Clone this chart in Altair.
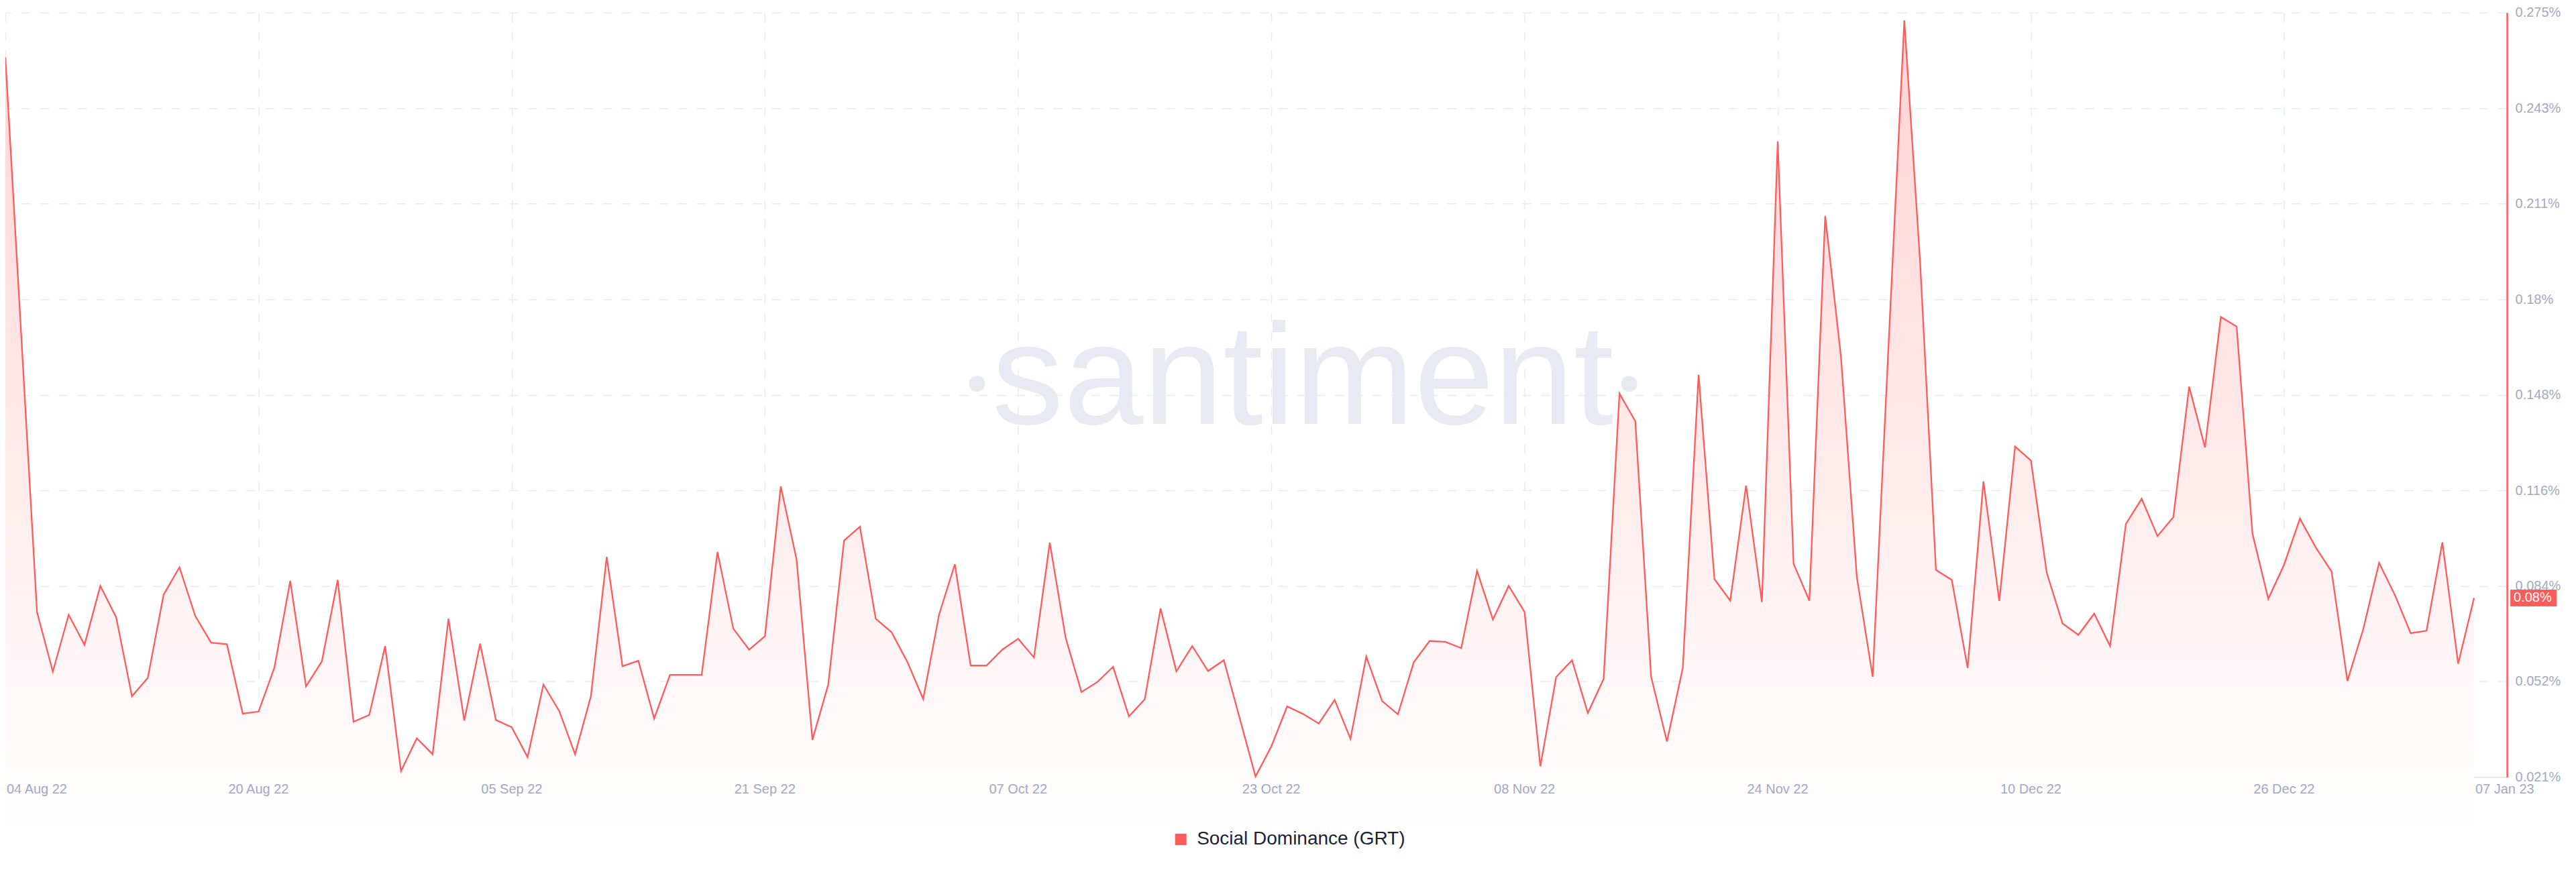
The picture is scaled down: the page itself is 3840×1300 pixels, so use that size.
import altair as alt
import pandas as pd

# ---------------- data ----------------
start_date = "2022-08-04"
series_name = "Social Dominance (GRT)"

values = [
    0.2601, 0.1679, 0.0755, 0.0557, 0.0746, 0.0646, 0.0842, 0.0738, 0.0475, 0.0536,
    0.0813, 0.0904, 0.0742, 0.0653, 0.0648, 0.0417, 0.0424, 0.0570, 0.0859, 0.0508,
    0.0591, 0.0862, 0.0390, 0.0413, 0.0642, 0.0226, 0.0335, 0.0282, 0.0733, 0.0394,
    0.0650, 0.0396, 0.0372, 0.0272, 0.0514, 0.0426, 0.0282, 0.0475, 0.0939, 0.0575,
    0.0593, 0.0401, 0.0546, 0.0546, 0.0546, 0.0955, 0.0700, 0.0630, 0.0675, 0.1173,
    0.0930, 0.0330, 0.0514, 0.0993, 0.1039, 0.0733, 0.0688, 0.0589, 0.0466, 0.0746,
    0.0914, 0.0577, 0.0577, 0.0630, 0.0666, 0.0604, 0.0986, 0.0670, 0.0489, 0.0522,
    0.0573, 0.0408, 0.0465, 0.0767, 0.0558, 0.0642, 0.0559, 0.0595, 0.0402, 0.0208,
    0.0308, 0.0441, 0.0416, 0.0384, 0.0463, 0.0334, 0.0607, 0.0459, 0.0415, 0.0588,
    0.0659, 0.0656, 0.0635, 0.0892, 0.0730, 0.0842, 0.0756, 0.0242, 0.0539, 0.0595,
    0.0419, 0.0533, 0.1482, 0.1390, 0.0540, 0.0324, 0.0569, 0.1545, 0.0865, 0.0793,
    0.1176, 0.0788, 0.2321, 0.0916, 0.0793, 0.2073, 0.1603, 0.0872, 0.0540, 0.1640,
    0.2724, 0.1919, 0.0895, 0.0862, 0.0569, 0.1190, 0.0792, 0.1306, 0.1259, 0.0886,
    0.0717, 0.0679, 0.0750, 0.0642, 0.1048, 0.1132, 0.1008, 0.1071, 0.1505, 0.1303,
    0.1737, 0.1705, 0.1016, 0.0799, 0.0913, 0.1066, 0.0970, 0.0890, 0.0526, 0.0698,
    0.0919, 0.0812, 0.0685, 0.0693, 0.0987, 0.0583, 0.0802,
]
dates = pd.date_range(start_date, periods=len(values), freq="D").strftime("%Y-%m-%dT%H:%M:%S").tolist()

y_ticks = [0.0206, 0.0524, 0.0842, 0.116, 0.1478, 0.1796, 0.2114, 0.2432, 0.275]
x_tick_dates = [
    "2022-08-04T00:00:00", "2022-08-20T00:00:00", "2022-09-05T00:00:00",
    "2022-09-21T00:00:00", "2022-10-07T00:00:00", "2022-10-23T00:00:00",
    "2022-11-08T00:00:00", "2022-11-24T00:00:00", "2022-12-10T00:00:00",
    "2022-12-26T00:00:00", "2023-01-07T00:00:00",
]
x_tick_labels = [
    "04 Aug 22", "20 Aug 22", "05 Sep 22", "21 Sep 22", "07 Oct 22", "23 Oct 22",
    "08 Nov 22", "24 Nov 22", "10 Dec 22", "26 Dec 22", "07 Jan 23",
]
watermark_text = ["santiment"]

# ---------------- style ----------------
W, H = 3733, 1141
TOP = 10
RED = "#ff5b5b"
GRID = "#e8ebf3"
LABEL = "#a0a9c3"
FONT = "Liberation Sans"
WM_FONT = "Liberation Sans"
WM_COLOR = "#e7eaf3"

df = pd.DataFrame({"date": dates, "value": values, "series": series_name})
last_df = pd.DataFrame({"date": [dates[-1]], "value": [values[-1]]})
ticks_df = pd.DataFrame({"date": x_tick_dates, "lab": x_tick_labels,
                         "pos": ["first"] + ["mid"] * 9 + ["last"]})

x_scale = alt.Scale(domain=[alt.DateTime(year=2022, month=8, date=4),
                            alt.DateTime(year=2023, month=1, date=9, hours=2)])
x_enc = alt.X(
    "date:T", scale=x_scale, title=None,
    axis=alt.Axis(
        values=[alt.DateTime(year=int(d[0:4]), month=int(d[5:7]), date=int(d[8:10]))
                for d in x_tick_dates[:-1]],
        title=None, ticks=False, labels=False,
        grid=True, gridColor=GRID, gridDash=[14, 14], gridWidth=1.5,
        domainColor="#e3e7ef", domainWidth=2,
    ),
)

y_scale = alt.Scale(domain=[0.0206, 0.275], nice=False, zero=False)
y_enc = alt.Y(
    "value:Q", scale=y_scale,
    axis=alt.Axis(
        orient="right", values=y_ticks, labelExpr="format(datum.value, '.3~f') + '%'",
        title=None, ticks=False, labelPadding=12, labelFontSize=20, labelColor=LABEL,
        labelFont=FONT, labelAlign="left", labelBaseline="middle", labelFlush=False,
        domainColor=RED, domainWidth=2.5,
        grid=True, gridColor=GRID, gridDash=[14, 14], gridWidth=1.5,
    ),
)

# watermark positions are relative to the plot origin (page y = 8 + TOP)
wm = alt.Chart(pd.DataFrame({"t": watermark_text})).mark_text(
    font=WM_FONT, fontSize=214, color=WM_COLOR, align="center", baseline="alphabetic"
).encode(x=alt.value(1936), y=alt.value(632 - 8 - TOP), text="t:N")

dot1 = alt.Chart(pd.DataFrame({"k": [0]})).mark_point(
    filled=True, shape="circle", size=573, color=WM_COLOR, opacity=1
).encode(x=alt.value(1450), y=alt.value(572 - 8 - TOP))
dot2 = alt.Chart(pd.DataFrame({"k": [0]})).mark_point(
    filled=True, shape="circle", size=573, color=WM_COLOR, opacity=1
).encode(x=alt.value(2423), y=alt.value(572 - 8 - TOP))

area = alt.Chart(df).mark_area(
    color=alt.Gradient(
        gradient="linear",
        stops=[alt.GradientStop(color="#ffd3d5", offset=0),
               alt.GradientStop(color="#ffffff", offset=1)],
        x1=1, x2=1, y1=0, y2=1,
    )
).encode(x=x_enc, y=y_enc, y2=alt.value("height"))

line = alt.Chart(df).mark_line(strokeWidth=2.3).encode(
    x=x_enc, y=y_enc,
    color=alt.Color(
        "series:N", scale=alt.Scale(range=[RED]),
        legend=alt.Legend(
            orient="none", legendX=1740, legendY=1238 - 8 - TOP, title=None, padding=0,
            symbolType="square", symbolSize=289, symbolFillColor=RED,
            symbolStrokeColor=RED, symbolStrokeWidth=0,
            labelFontSize=28, labelColor="#1c2338", labelFont=FONT, labelOffset=10,
            labelLimit=800,
        ),
    ),
)

tick_text_left = alt.Chart(ticks_df).transform_filter("datum.pos !== 'mid'").mark_text(
    align="left", baseline="top", color=LABEL, fontSize=20, font=FONT, dx=2
).encode(x=alt.X("date:T", scale=x_scale, title=None), y=alt.value(H + 9), text="lab:N")

tick_text_mid = alt.Chart(ticks_df).transform_filter("datum.pos === 'mid'").mark_text(
    align="center", baseline="top", color=LABEL, fontSize=20, font=FONT
).encode(x=alt.X("date:T", scale=x_scale, title=None), y=alt.value(H + 9), text="lab:N")

half = 12.5 * (0.275 - 0.0206) / H
box = alt.Chart(last_df).transform_calculate(
    lo=f"datum.value - {half}", hi=f"datum.value + {half}"
).mark_rect(color=RED).encode(
    x=alt.value(3738), x2=alt.value(3807),
    y=alt.Y("lo:Q", title=None), y2="hi:Q",
)

box_label = alt.Chart(last_df).transform_calculate(
    label="format(datum.value, '.2f') + '%'"
).mark_text(align="left", baseline="middle", color="white", fontSize=20, font=FONT).encode(
    x=alt.value(3743), y=alt.Y("value:Q", title=None), text="label:N"
)

chart = alt.layer(wm, dot1, dot2, area, line, tick_text_left, tick_text_mid, box, box_label).properties(
    width=W, height=H,
    padding={"left": 0, "top": TOP, "right": 95, "bottom": 135},
    autosize=alt.AutoSizeParams(type="none"),
).configure_view(stroke=None)

chart.save("out.html", embed_options={"renderer": "svg", "actions": False})
